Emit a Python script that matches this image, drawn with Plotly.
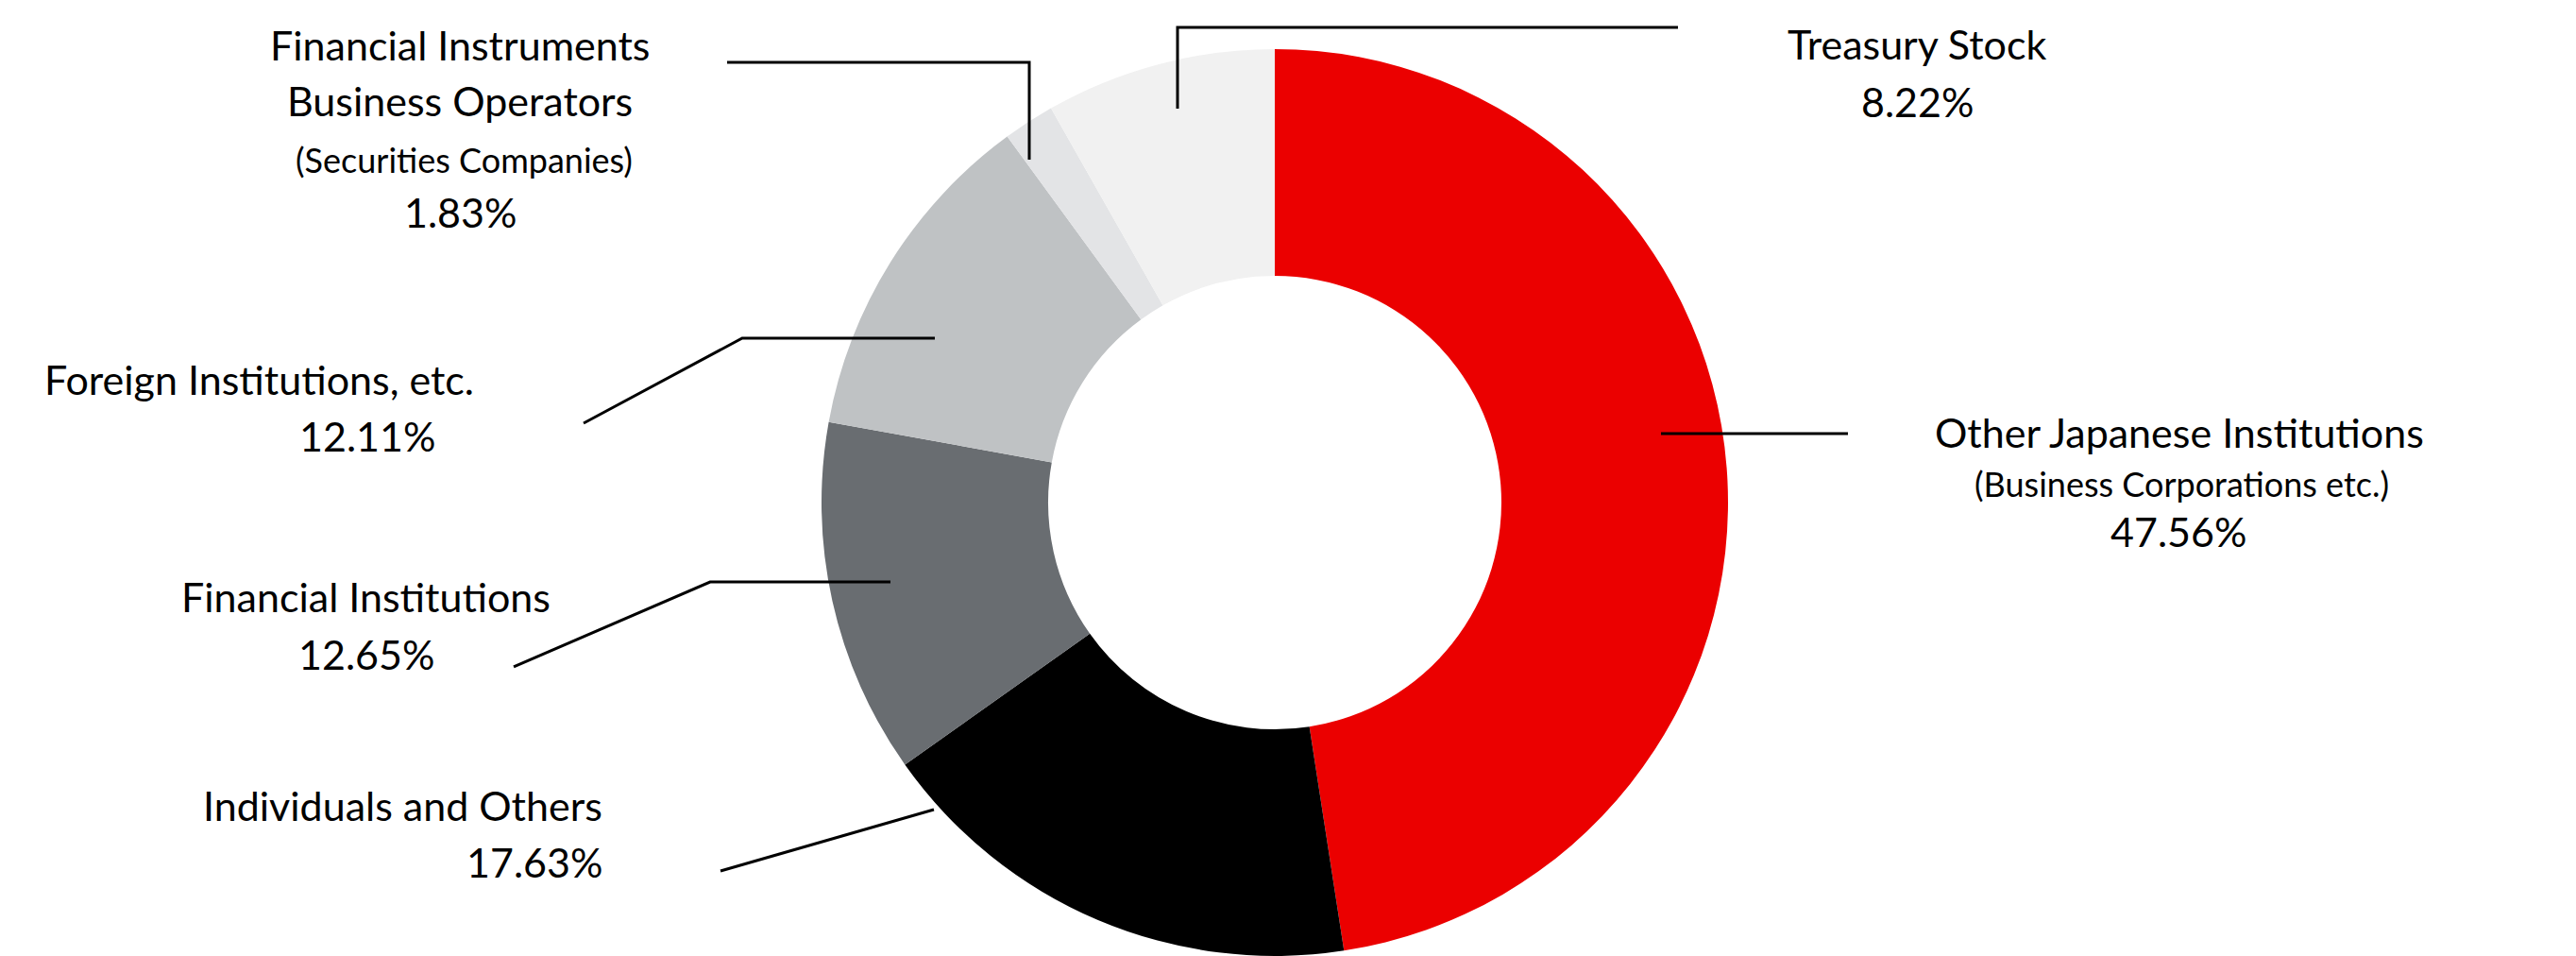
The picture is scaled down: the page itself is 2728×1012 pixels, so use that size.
import plotly.graph_objects as go

# shareholder composition, clockwise from 12 o'clock
groups = ["Other Japanese Institutions", "Individuals and Others", "Financial Institutions",
          "Foreign Institutions, etc.", "Financial Instruments Business Operators", "Treasury Stock"]
shares = [47.56, 17.63, 12.65, 12.11, 1.83, 8.22]
colors = ["#EB0000", "#000000", "#696D71", "#BFC2C4", "#E3E4E6", "#F1F1F1"]

# label text, one list of lines per group (tuples mark the small sub-caption)
label_lines = [
    ["Other Japanese Institutions", ("(Business Corporations etc.)", "small"), "47.56%"],
    ["Individuals and Others", "17.63%"],
    ["Financial Institutions", "12.65%"],
    ["Foreign Institutions, etc.", "12.11%"],
    ["Financial Instruments", "Business Operators", ("(Securities Companies)", "small"), "1.83%"],
    ["Treasury Stock", "8.22%"],
]

W, H = 2728, 1012
OFF = 8  # page body margin of the html
FONT = "Lato"
BIG, SMALL = 43, 36

# per-line (x centre, baseline) in pixels, matching label_lines
label_pos = [
    [(2308, 473), (2310, 525), (2307, 578)],
    [(426, 868), (566, 928)],
    [(388, 647), (388, 708)],
    [(274, 417), (389, 477)],
    [(487, 63), (487, 122), (491, 182), (487, 240)],
    [(2030, 62), (2030, 123)],
]

# leader lines in pixels
leaders = [
    [(1759, 459), (1957, 459)],
    [(989, 857), (763, 922)],
    [(943, 616), (752, 616), (544, 706)],
    [(990, 358), (786, 358), (618, 448)],
    [(1090, 169), (1090, 66), (770, 66)],
    [(1247, 115), (1247, 29), (1777, 29)],
]


def px(x):
    return (x - OFF) / W


def py(y):
    return 1 - (y - OFF) / H


cx, cy, R = 1350, 532, 480

fig = go.Figure(go.Pie(
    labels=groups,
    values=shares,
    hole=0.5,
    sort=False,
    direction="clockwise",
    rotation=0,
    marker=dict(colors=colors, line=dict(width=0)),
    textinfo="none",
    hoverinfo="label+percent",
    domain=dict(x=[px(cx - R), px(cx + R)], y=[py(cy + R), py(cy - R)]),
    showlegend=False,
))

annotations = []
for lines, poss in zip(label_lines, label_pos):
    for line, (x, base) in zip(lines, poss):
        if isinstance(line, tuple):
            text, size = line[0], SMALL
        else:
            text, size = line, BIG
        annotations.append(dict(
            x=px(x), y=py(base - 0.37 * size), xref="paper", yref="paper",
            text=text, showarrow=False, xanchor="center", yanchor="middle",
            font=dict(family=FONT, size=size, color="#000000"),
        ))

shapes = []
for pts in leaders:
    path = "M " + " L ".join(f"{px(x):.5f},{py(y):.5f}" for x, y in pts)
    shapes.append(dict(type="path", path=path, xref="paper", yref="paper",
                       line=dict(color="#000000", width=3)))

fig.update_layout(
    width=W, height=H,
    margin=dict(l=0, r=0, t=0, b=0),
    paper_bgcolor="white",
    plot_bgcolor="white",
    annotations=annotations,
    shapes=shapes,
)

fig.write_html("out.html")
